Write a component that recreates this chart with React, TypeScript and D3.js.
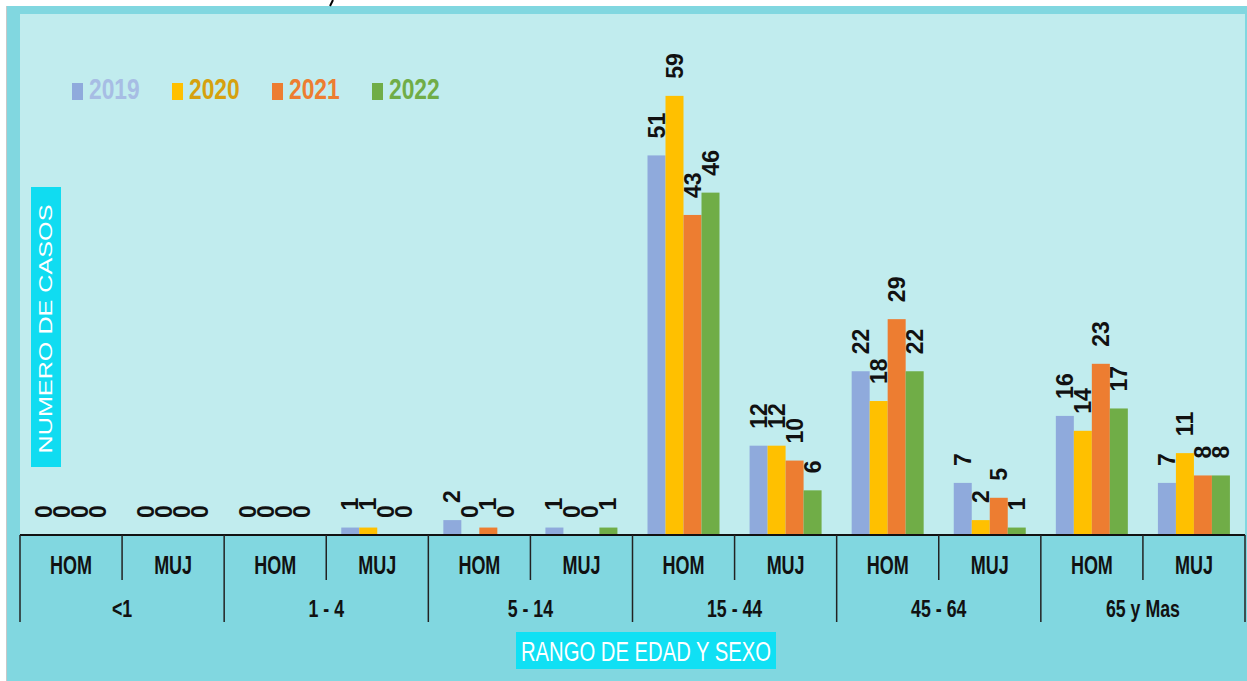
import React from 'react';
import * as d3 from 'd3';

const ageGroups = ['<1', '1 - 4', '5 - 14', '15 - 44', '45 - 64', '65 y Mas'];
const sexes = ['HOM', 'MUJ'];
const years = ['2019', '2020', '2021', '2022'];
const cases2019 = [0, 0, 0, 1, 2, 1, 51, 12, 22, 7, 16, 7];
const cases2020 = [0, 0, 0, 1, 0, 0, 59, 12, 18, 2, 14, 11];
const cases2021 = [0, 0, 0, 0, 1, 0, 43, 10, 29, 5, 23, 8];
const cases2022 = [0, 0, 0, 0, 0, 1, 46, 6, 22, 1, 17, 8];

const barColors = ['#8faadc', '#ffc000', '#ed7d31', '#70ad47'];
const legendTextColors = ['#a7bde4', '#d6a10e', '#ed7d31', '#70ad47'];

const W = 1247;
const H = 681;
const plot = {left: 20, right: 1245, top: 14, bottom: 535};
const FONT = '"Liberation Sans", Arial, sans-serif';

export default function App() {
  const series = [cases2019, cases2020, cases2021, cases2022];
  const cats = ageGroups.flatMap((a) => sexes.map((s) => a + '|' + s));

  const x = d3.scaleBand().domain(cats).range([plot.left, plot.right]);
  const xGroup = d3.scaleBand().domain(ageGroups).range([plot.left, plot.right]);
  const xInner = d3.scaleBand().domain(years).range([15, 87]);
  const y = d3.scaleLinear().domain([0, 70]).range([plot.bottom, plot.top]);

  return (
    <svg width={W} height={H} style={{position: 'absolute', left: 0, top: 0}} fontFamily={FONT}>
      {/* frame */}
      <rect x={0} y={0} width={W} height={H} fill="#ffffff" />
      <rect x={7} y={6} width={W - 7} height={H - 6} fill="#81d7e0" />
      <line x1={6.5} y1={6} x2={6.5} y2={H} stroke="#c8c8c8" />
      <rect x={plot.left} y={plot.top} width={plot.right - plot.left} height={plot.bottom - plot.top} fill="#c1ecee" />
      <line x1={333} y1={0} x2={330} y2={6} stroke="#000" strokeWidth={2} />

      {/* bars */}
      {series.map((vals, si) =>
        vals.map((v, i) => (
          <rect key={si + '-' + i}
            x={x(cats[i])! + xInner(years[si])!}
            y={y(v)}
            width={xInner.bandwidth()}
            height={plot.bottom - y(v)}
            fill={barColors[si]} />
        ))
      )}

      {/* value labels */}
      {series.map((vals, si) =>
        vals.map((v, i) => {
          const cx = x(cats[i])! + xInner(years[si])! + xInner.bandwidth() / 2;
          const cy = y(v) - 17;
          return (
            <text key={'l' + si + '-' + i}
              transform={`translate(${cx},${cy}) rotate(-90)`}
              dominantBaseline="central"
              fontSize={23} fontWeight="bold" fill="#111">
              {v}
            </text>
          );
        })
      )}

      {/* axis */}
      <line x1={plot.left} y1={plot.bottom} x2={plot.right} y2={plot.bottom} stroke="#111" strokeWidth={2} />
      {cats.map((c, i) => (
        <line key={'t' + c}
          x1={x(c)!} x2={x(c)!} y1={plot.bottom} y2={i % 2 === 0 ? 622 : 580}
          stroke="#222" strokeWidth={1.5} />
      ))}
      <line x1={plot.right} x2={plot.right} y1={plot.bottom} y2={622} stroke="#222" strokeWidth={1.5} />
      {cats.map((c) => (
        <text key={'s' + c}
          transform={`translate(${x(c)! + x.bandwidth() / 2},574) scale(0.72,1)`}
          textAnchor="middle" fontSize={25} fontWeight="bold" fill="#111">
          {c.split('|')[1]}
        </text>
      ))}
      {ageGroups.map((g) => (
        <text key={'g' + g}
          transform={`translate(${xGroup(g)! + xGroup.bandwidth() / 2},617) scale(0.74,1)`}
          textAnchor="middle" fontSize={24} fontWeight="bold" fill="#111">
          {g}
        </text>
      ))}

      {/* axis titles */}
      <rect x={516} y={632} width={260} height={37} fill="#10e0f4" />
      <text transform="translate(646,661) scale(0.75,1)" textAnchor="middle" fontSize={27} fill="#fff">
        RANGO DE EDAD Y SEXO
      </text>
      <rect x={31} y={187} width={30} height={280} fill="#10dcf1" />
      <text transform="translate(46,329) rotate(-90) scale(1.4,1)" textAnchor="middle"
        dominantBaseline="central" fontSize={18} fontWeight="500" fill="#fff">
        NUMERO DE CASOS
      </text>

      {/* legend */}
      {years.map((yr, i) => (
        <g key={'k' + yr} transform={`translate(${72 + i * 100},0)`}>
          <rect x={0} y={83} width={11} height={17} fill={barColors[i]} />
          <text transform="translate(17,99) scale(0.76,1)" fontSize={30} fontWeight="bold" fill={legendTextColors[i]}>
            {yr}
          </text>
        </g>
      ))}
    </svg>
  );
}
